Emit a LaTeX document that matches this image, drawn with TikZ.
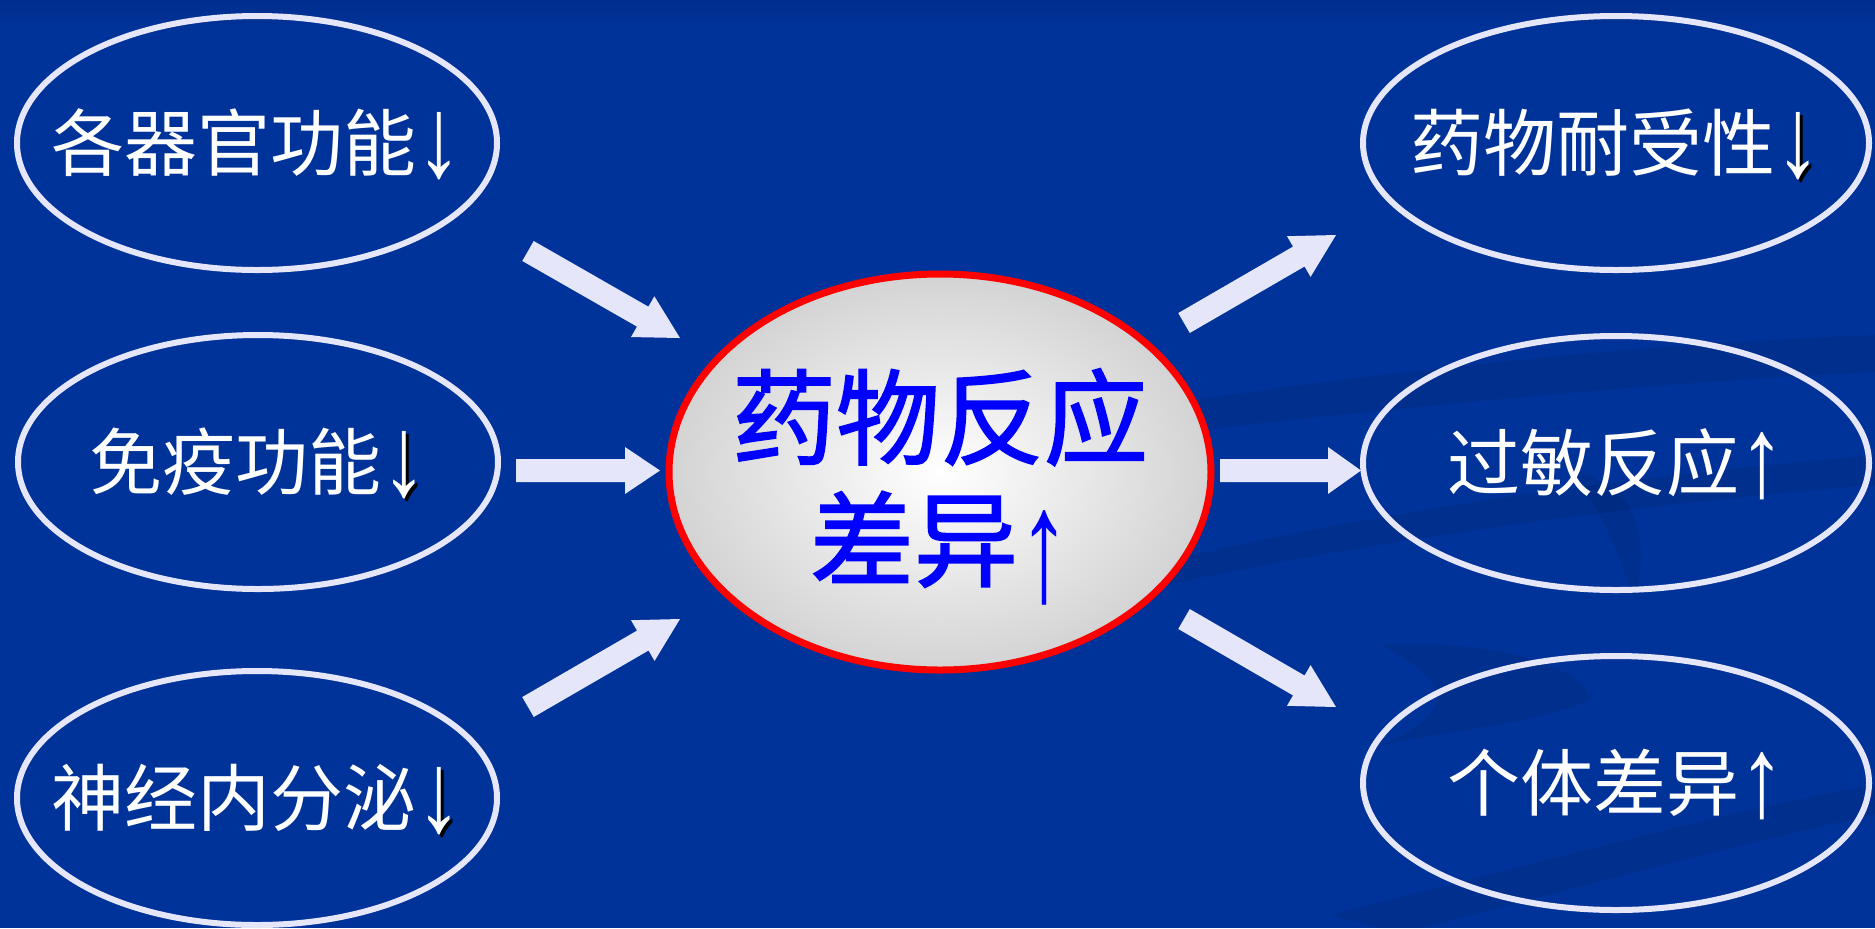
\documentclass[tikz,border=0pt]{standalone}
\usepackage{fontspec}
\setmainfont{Noto Sans CJK SC}
\newfontfamily\cjkheavy{Noto Sans CJK SC}[FakeBold=1.6]
\newfontfamily\arrfont{Liberation Serif}
\usetikzlibrary{shapes.geometric,calc}
\definecolor{bg}{RGB}{0,51,153}
\definecolor{bgdark}{RGB}{0,42,135}
\definecolor{lav}{RGB}{230,230,250}
\definecolor{grayedge}{RGB}{192,192,192}
\definecolor{centerblue}{RGB}{0,0,255}
\pgfdeclareradialshading{ctrshade}{\pgfpoint{0bp}{0bp}}{color(0bp)=(white); color(36bp)=(grayedge); color(50bp)=(grayedge)}
\newcommand\arrglyph[1]{\smash{\raisebox{-3pt}{\arrfont\fontsize{57}{57}\selectfont\scalebox{0.8}[1]{#1}}}}
\newcommand\dnarrow{\arrglyph{↓}}
\newcommand\dnarrowsh{\rlap{\hspace{1.5pt}\raisebox{-1.5pt}{\color{black}\arrglyph{↓}}}\arrglyph{↓}}
\newcommand\uparrowsym{\arrglyph{↑}}
\newcommand\bigup{\smash{\raisebox{-11pt}{\arrfont\fontsize{80}{80}\selectfont\scalebox{0.65}[1]{↑}}}}
\newcommand\blockarrow[3][17.5pt]{%
  \path ($(#3)!#1!(#2)$) coordinate (hb);
  \fill[arrowfill] ($(#2)!5.75pt!90:(#3)$) -- ($(hb)!5.75pt!90:(#3)$) -- ($(hb)!11.75pt!90:(#3)$) -- (#3)
    -- ($(hb)!11.75pt!-90:(#3)$) -- ($(hb)!5.75pt!-90:(#3)$) -- ($(#2)!5.75pt!-90:(#3)$) -- cycle;}
\tikzset{
  arrowfill/.style={fill=lav},
  sidetext/.style={text=white, inner sep=0pt, font=\fontsize{36.5}{40}\selectfont},
  centertext/.style={text=centerblue, inner sep=0pt, align=center, yshift=-3pt,
    font=\cjkheavy\fontsize{52}{61}\selectfont},
  sidebox/.style={ellipse, draw=lav, line width=3pt, inner sep=0pt, minimum height=127pt},
  leftbox/.style={sidebox, minimum width=240pt},
  rightbox/.style={sidebox, minimum width=253pt},
  centerbox/.style={ellipse, draw=red, line width=3.5pt, shading=ctrshade, inner sep=0pt,
    minimum width=271pt, minimum height=198pt},
  swoosh/.style={fill=black, opacity=0.07}
}
\begin{document}
\begin{tikzpicture}[x=0.5pt,y=-0.5pt]
  % background
  \fill[bg] (0,0) rectangle (1875,928);
  \useasboundingbox (0,0) rectangle (1875,928);
  \shade[top color=bgdark, bottom color=bg, opacity=0.5] (0,0) rectangle (1875,30);
  % faint background swooshes
  \fill[swoosh] (1000,430) .. controls (1300,380) and (1600,345) .. (1875,335) -- (1875,372) .. controls (1600,385) and (1300,418) .. (1000,452) -- cycle;
  \fill[swoosh] (1150,565) .. controls (1400,505) and (1650,475) .. (1875,455) -- (1875,485) .. controls (1650,503) and (1400,535) .. (1150,588) -- cycle;
  \fill[swoosh] (1330,915) .. controls (1550,860) and (1750,805) .. (1875,785) -- (1875,815) .. controls (1750,840) and (1550,895) .. (1420,928) -- (1380,928) -- cycle;
  \fill[swoosh] (1380,645) .. controls (1480,640) and (1580,660) .. (1590,700) .. controls (1530,725) and (1450,730) .. (1380,745) .. controls (1440,720) and (1470,690) .. (1380,645) -- cycle;
  \fill[swoosh] (1570,470) .. controls (1640,485) and (1650,540) .. (1635,600) .. controls (1620,560) and (1605,515) .. (1570,470) -- cycle;

  % nodes
  \node[leftbox, label={[sidetext]center:各器官功能\dnarrow}] (organ) at (257,143) {};
  \node[leftbox, label={[sidetext]center:免疫功能\dnarrowsh}] (immune) at (258,462) {};
  \node[leftbox, label={[sidetext]center:神经内分泌\dnarrowsh}] (neuro) at (257,798) {};
  \node[rightbox, label={[sidetext]center:药物耐受性\dnarrowsh}] (tol) at (1616,143) {};
  \node[rightbox, label={[sidetext]center:过敏反应\uparrowsym}] (allergy) at (1616,463) {};
  \node[rightbox, label={[sidetext]center:个体差异\uparrowsym}] (indiv) at (1616,783) {};
  \node[centerbox, label={[centertext]center:药物反应\\差异\bigup}] (center) at (940,472) {};

  % arrow end points
  \coordinate (a1s) at (528,251);  \coordinate (a1e) at (680,338);
  \coordinate (a2s) at (516,470.5); \coordinate (a2e) at (660,470.5);
  \coordinate (a3s) at (528,707);  \coordinate (a3e) at (680,619);
  \coordinate (a4s) at (1184,323); \coordinate (a4e) at (1336,235);
  \coordinate (a5s) at (1220,470.5); \coordinate (a5e) at (1361,470.5);
  \coordinate (a6s) at (1184,619); \coordinate (a6e) at (1336,707);

  \blockarrow[21.5pt]{a1s}{a1e}
  \blockarrow{a2s}{a2e}
  \blockarrow[21.5pt]{a3s}{a3e}
  \blockarrow[21.5pt]{a4s}{a4e}
  \blockarrow[16.5pt]{a5s}{a5e}
  \blockarrow[21.5pt]{a6s}{a6e}
\end{tikzpicture}
\end{document}
